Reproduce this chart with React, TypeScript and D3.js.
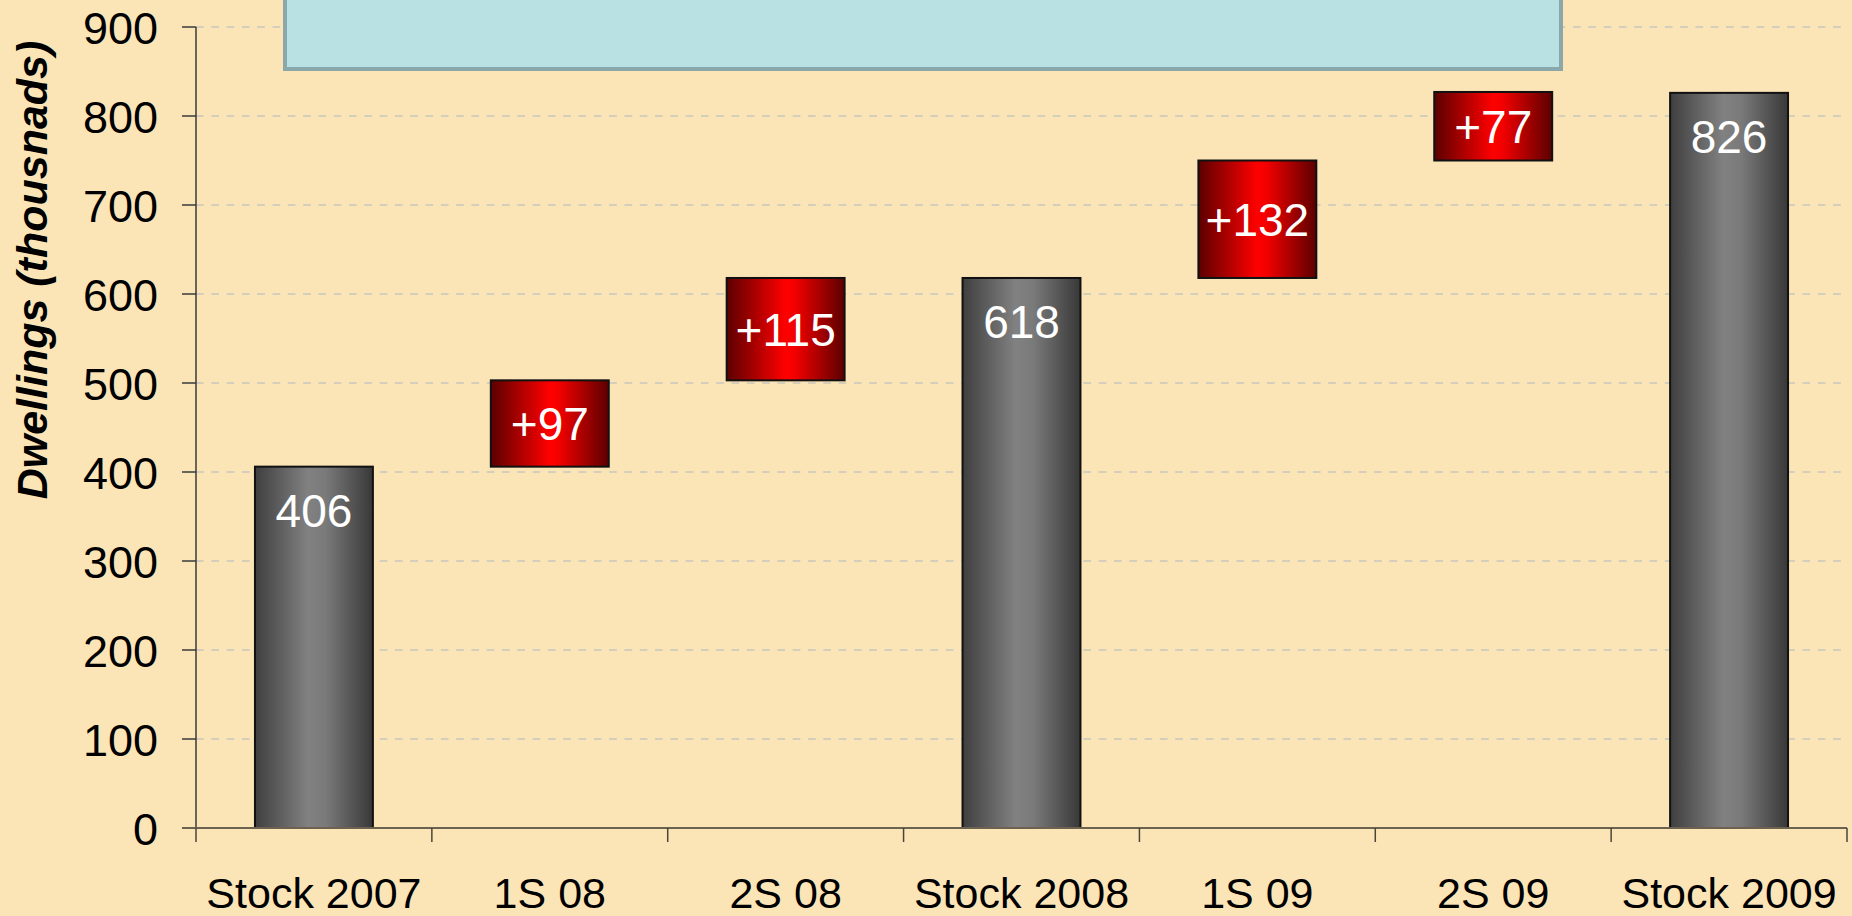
import * as d3 from "d3";

const categories = ["Stock 2007", "1S 08", "2S 08", "Stock 2008", "1S 09", "2S 09", "Stock 2009"];
const values = [406, 97, 115, 618, 132, 77, 826];
const kinds = ["total", "delta", "delta", "total", "delta", "delta", "total"];
const yTicks = [0, 100, 200, 300, 400, 500, 600, 700, 800, 900];

const W = 1852;
const H = 916;
const margin = { top: 27, right: 5, bottom: 88, left: 196 };
const FONT = "'Liberation Sans', Arial, Helvetica, sans-serif";

export default function App() {
  const x = d3
    .scaleBand()
    .domain(categories)
    .range([margin.left, W - margin.right])
    .paddingInner(0.5)
    .paddingOuter(0.25);

  const y = d3
    .scaleLinear()
    .domain([0, 900])
    .range([H - margin.bottom, margin.top]);

  // running totals for the waterfall
  let running = 0;
  const bars = categories.map((c, i) => {
    const v = values[i];
    if (kinds[i] === "total") {
      running = v;
      return { c, kind: "total", lo: 0, hi: v, label: String(v) };
    }
    const lo = running;
    running += v;
    return { c, kind: "delta", lo, hi: running, label: "+" + v };
  });

  const step = x.step();
  const boundaries = d3.range(categories.length + 1).map((i) => margin.left + i * step);
  const x0 = margin.left;
  const y0 = y(0);

  return (
    <svg
      width={W}
      height={H}
      style={{ position: "absolute", left: 0, top: 0, display: "block" }}
    >
      <defs>
        <linearGradient id="grayGrad" x1="0%" y1="0%" x2="100%" y2="0%">
          <stop offset="0%" stopColor="#3f3f3f" />
          <stop offset="45%" stopColor="#818181" />
          <stop offset="60%" stopColor="#7a7a7a" />
          <stop offset="100%" stopColor="#383838" />
        </linearGradient>
        <linearGradient id="redGrad" x1="0%" y1="0%" x2="100%" y2="0%">
          <stop offset="0%" stopColor="#5c0000" />
          <stop offset="50%" stopColor="#ff0000" />
          <stop offset="58%" stopColor="#f20000" />
          <stop offset="100%" stopColor="#5c0000" />
        </linearGradient>
      </defs>

      <rect x={0} y={0} width={W} height={H} fill="#fbe5b7" />

      {/* gridlines */}
      {yTicks.slice(1).map((t) => (
        <line
          key={"g" + t}
          x1={x0}
          x2={W - margin.right}
          y1={y(t)}
          y2={y(t)}
          stroke="#c9c6bc"
          strokeWidth={1.4}
          strokeDasharray="7.7,7.6"
        />
      ))}

      {/* callout box cut off at the top */}
      <rect x={285} y={-20} width={1276} height={89} fill="#b9e0e3" stroke="#8aa7aa" strokeWidth={4} />

      {/* bars */}
      {bars.map((b) => (
        <g key={b.c}>
          <rect
            x={x(b.c)}
            y={y(b.hi)}
            width={x.bandwidth()}
            height={y(b.lo) - y(b.hi)}
            fill={b.kind === "total" ? "url(#grayGrad)" : "url(#redGrad)"}
            stroke="#111"
            strokeWidth={2}
          />
          <text
            x={(x(b.c) as number) + x.bandwidth() / 2}
            y={b.kind === "total" ? y(b.hi) + 60 : (y(b.hi) + y(b.lo)) / 2}
            dy={b.kind === "total" ? 0 : "0.36em"}
            textAnchor="middle"
            fill="#fff"
            fontFamily={FONT}
            fontSize={46}
          >
            {b.label}
          </text>
        </g>
      ))}

      {/* y axis */}
      <line x1={x0} x2={x0} y1={y(900)} y2={y0} stroke="#3a3a3a" strokeWidth={1.5} />
      {yTicks.map((t) => (
        <g key={"t" + t}>
          <line x1={x0 - 14} x2={x0} y1={y(t)} y2={y(t)} stroke="#3a3a3a" strokeWidth={1.5} />
          <text
            x={158}
            y={y(t)}
            dy="0.38em"
            textAnchor="end"
            fontFamily={FONT}
            fontSize={45}
            fill="#000"
          >
            {t}
          </text>
        </g>
      ))}

      {/* x axis */}
      <line x1={x0 - 14} x2={W - margin.right} y1={y0} y2={y0} stroke="#6b624f" strokeWidth={2} />
      {boundaries.map((bx, i) => (
        <line key={"xb" + i} x1={bx} x2={bx} y1={y0} y2={y0 + 14} stroke="#4a4538" strokeWidth={1.5} />
      ))}
      {categories.map((c) => (
        <text
          key={"xl" + c}
          x={(x(c) as number) + x.bandwidth() / 2}
          y={908}
          textAnchor="middle"
          fontFamily={FONT}
          fontSize={43}
          fill="#000"
        >
          {c}
        </text>
      ))}

      {/* y axis title */}
      <text
        transform={`translate(47,270) rotate(-90)`}
        textAnchor="middle"
        fontFamily={FONT}
        fontSize={43}
        fontWeight="bold"
        fontStyle="italic"
        fill="#000"
      >
        Dwellings (thousnads)
      </text>
    </svg>
  );
}
